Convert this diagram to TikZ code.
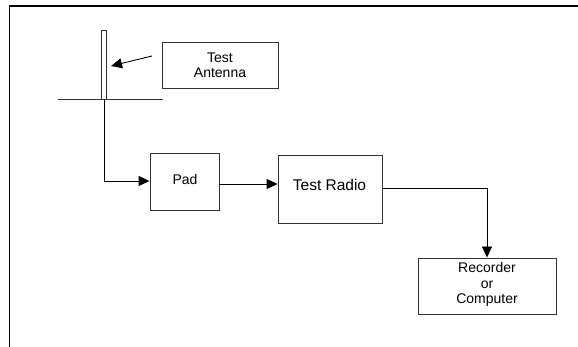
\documentclass[tikz,border=0pt]{standalone}
\usepackage{fontspec}
\setmainfont{Liberation Sans}
\usetikzlibrary{arrows.meta}
\begin{document}
\begin{tikzpicture}[x=1pt,y=-1pt,
  box/.style={draw=black!80,line width=0.9pt,inner sep=0pt},
  lbl/.style={inner sep=0pt,align=center,font=\fontsize{14}{15.2}\selectfont},
  wire/.style={draw=black,line width=0.9pt},
  tip/.style={-{Triangle[length=11pt,width=10pt]}}]
\useasboundingbox (0,0) rectangle (578,347);
% frame
\draw[line width=1.8pt] (9.5,347) -- (9.5,6) -- (578,6);
% antenna rod and ground plane
\node[box,fill=white,minimum width=4.5pt,minimum height=69pt] (rod) at (104,64.5) {};
\coordinate (gl) at (58,99);
\coordinate (gr) at (163,99);
\draw[draw=black!80,line width=0.9pt] (gl) -- (gr);
% boxes
\node[box,minimum width=116pt,minimum height=46pt] (ant) at (220,65) {};
\node[lbl] (antt) at (220,65) {Test\\Antenna};
\node[box,minimum width=69pt,minimum height=57.5pt] (pad) at (184.5,182) {};
\node[lbl] (padt) at (185,179.5) {Pad};
\node[box,minimum width=104pt,minimum height=68pt] (radio) at (330,189) {};
\node[lbl,font=\fontsize{15.5}{17}\selectfont] (radiot) at (329.5,184.5) {Test Radio};
\node[box,minimum width=138pt,minimum height=56pt] (rec) at (487,286) {};
\node[lbl] (rect) at (487,284.5) {Recorder\\or\\Computer};
% connectors
\coordinate (arrs) at (152,56);
\coordinate (arre) at (111,66);
\draw[wire,tip] (arrs) -- (arre);
\draw[wire,tip] (rod.south) |- (pad.west |- 0,181);
\draw[wire,tip] (pad.east |- 0,184) -- (radio.west |- 0,184);
\draw[wire,tip] (radio.east |- 0,188) -| (rec.north);
\end{tikzpicture}
\end{document}
